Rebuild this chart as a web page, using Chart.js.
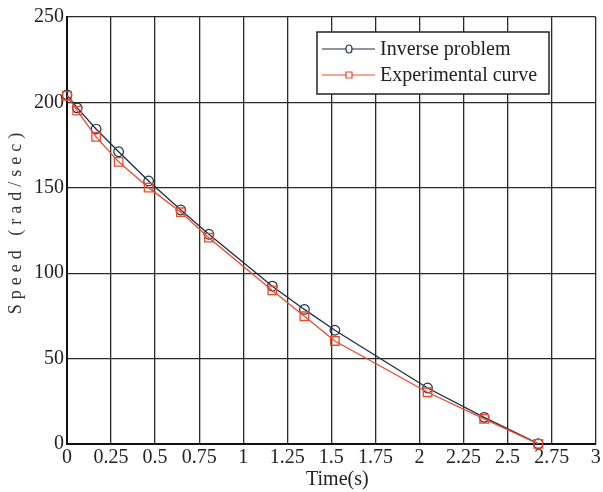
<!DOCTYPE html>
<html>
<head>
<meta charset="utf-8">
<script src="https://cdn.jsdelivr.net/npm/chart.js@4/dist/chart.umd.min.js"></script>
<style>
  html, body { margin: 0; padding: 0; background: #fff; }
  #wrap { width: 603px; height: 492px; position: relative; }
</style>
</head>
<body>
<div id="wrap"><canvas id="speed-chart"></canvas></div>
<script>
// data
const times = [0, 0.058, 0.165, 0.293, 0.463, 0.646, 0.805, 1.165, 1.347, 1.52, 2.046, 2.367, 2.674];
const inverseSpeed = [204.4, 196.8, 184.4, 171.1, 154.0, 137.0, 122.8, 92.4, 78.8, 66.6, 32.8, 15.6, 0.2];
const experimentalSpeed = [203.9, 195.2, 179.8, 165.2, 150.1, 135.7, 120.8, 89.9, 74.8, 60.3, 30.3, 14.7, 0.1];
const xTicks = [0, 0.25, 0.5, 0.75, 1, 1.25, 1.5, 1.75, 2, 2.25, 2.5, 2.75, 3];
const yTicks = [0, 50, 100, 150, 200, 250];
const seriesNames = ['Inverse problem', 'Experimental curve'];

const NAVY = '#1c2d45';
const RED = '#ec4a2c';
const SERIF = '"Liberation Serif", "DejaVu Serif", serif';

const toPoints = (ys) => ys.map((y, i) => ({ x: times[i], y: y }));

// legend box + axis titles, drawn by hand so they sit like the original
const decorations = {
    id: 'decorations',
    afterDraw(chart) {
        const ctx = chart.ctx;
        const area = chart.chartArea;
        ctx.save();

        // x title
        ctx.fillStyle = '#222';
        ctx.font = '20px ' + SERIF;
        ctx.textAlign = 'center';
        ctx.textBaseline = 'middle';
        ctx.fillText('Time(s)', (area.left + area.right) / 2 + 6, 480);

        // y title, spaced letters
        ctx.save();
        ctx.translate(16, 221);
        ctx.rotate(-Math.PI / 2);
        ctx.font = '18px ' + SERIF;
        ctx.letterSpacing = '5px';
        ctx.fillStyle = '#333';
        ctx.fillText('Speed (rad/sec)', 0, 0);
        ctx.restore();

        // legend
        const bx = 317, by = 32, bw = 232, bh = 62;
        ctx.fillStyle = '#fff';
        ctx.fillRect(bx, by, bw, bh);
        ctx.strokeStyle = '#222';
        ctx.lineWidth = 1.5;
        ctx.strokeRect(bx, by, bw, bh);

        const rows = [
            { name: seriesNames[0], color: NAVY, y: 49, marker: 'circle' },
            { name: seriesNames[1], color: RED, y: 75, marker: 'square' }
        ];
        rows.forEach(r => {
            ctx.strokeStyle = r.color;
            ctx.lineWidth = 1.2;
            ctx.beginPath();
            ctx.moveTo(322, r.y);
            ctx.lineTo(375, r.y);
            ctx.stroke();
            ctx.fillStyle = '#fff';
            ctx.beginPath();
            if (r.marker === 'circle') {
                ctx.ellipse(349, r.y, 3, 4, 0, 0, Math.PI * 2);
            } else {
                ctx.rect(346, r.y - 3, 6, 6);
            }
            ctx.fill();
            ctx.stroke();
            ctx.fillStyle = '#222';
            ctx.font = '20px ' + SERIF;
            ctx.textAlign = 'left';
            ctx.textBaseline = 'middle';
            ctx.fillText(r.name, 380, r.y + 1);
        });

        ctx.restore();
    }
};

new Chart(document.getElementById('speed-chart'), {
    type: 'line',
    data: {
        datasets: [
            {
                label: seriesNames[0],
                data: toPoints(inverseSpeed),
                borderColor: NAVY,
                backgroundColor: 'rgba(0,0,0,0)',
                borderWidth: 1.3,
                pointStyle: 'circle',
                pointRadius: 4.8,
                pointBorderWidth: 1.2,
                pointBorderColor: NAVY,
                tension: 0,
                clip: false,
                order: 1
            },
            {
                label: seriesNames[1],
                data: toPoints(experimentalSpeed),
                borderColor: RED,
                backgroundColor: 'rgba(0,0,0,0)',
                borderWidth: 1.3,
                pointStyle: 'rect',
                pointRadius: 6,
                pointBorderWidth: 1.3,
                pointBorderColor: RED,
                tension: 0,
                clip: false,
                order: 0
            }
        ]
    },
    options: {
        responsive: true,
        maintainAspectRatio: false,
        animation: false,
        layout: { padding: { top: 17, right: 5, left: 0, bottom: 0 } },
        plugins: {
            legend: { display: false },
            tooltip: { enabled: false }
        },
        scales: {
            x: {
                type: 'linear',
                min: 0,
                max: 3,
                afterBuildTicks: (scale) => { scale.ticks = xTicks.map(v => ({ value: v })); },
                afterFit: (scale) => { scale.height = 48; },
                ticks: {
                    color: '#222',
                    font: { family: SERIF, size: 20 },
                    padding: 2,
                    maxRotation: 0,
                    autoSkip: false,
                    callback: (v) => String(v)
                },
                grid: { color: '#2a2a2a', lineWidth: 1.3, drawTicks: false },
                border: { color: '#111', width: 2 }
            },
            y: {
                min: 0,
                max: 250,
                afterBuildTicks: (scale) => { scale.ticks = yTicks.map(v => ({ value: v })); },
                afterFit: (scale) => { scale.width = 67; },
                ticks: {
                    color: '#222',
                    font: { family: SERIF, size: 20 },
                    padding: 3,
                    autoSkip: false
                },
                grid: { color: '#2a2a2a', lineWidth: 1.3, drawTicks: false },
                border: { color: '#111', width: 2 }
            }
        }
    },
    plugins: [decorations]
});
</script>
</body>
</html>
